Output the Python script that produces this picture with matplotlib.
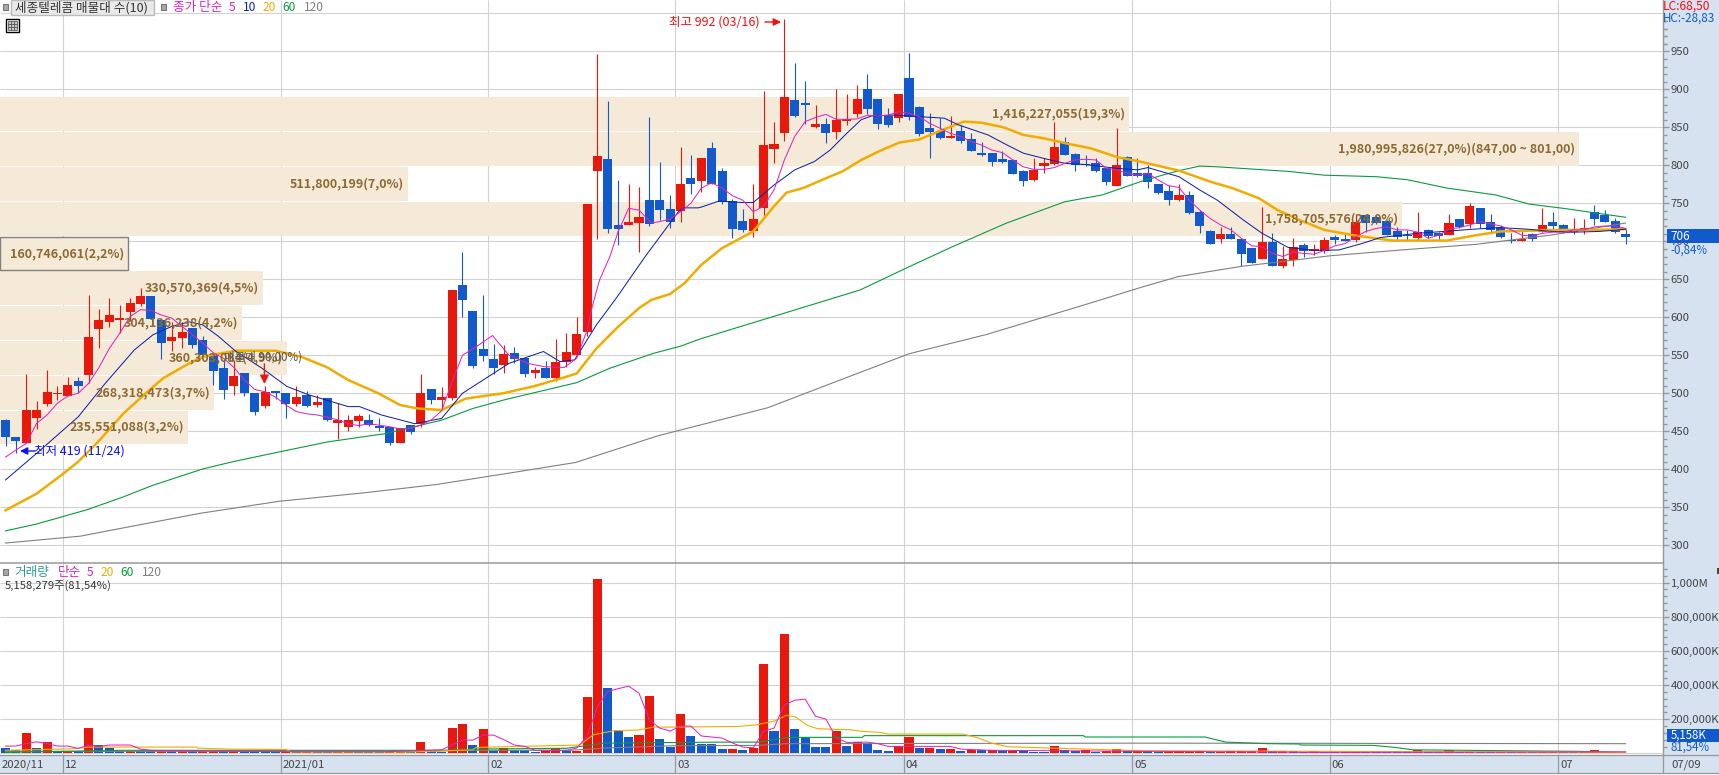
import matplotlib
matplotlib.use("Agg")
import matplotlib.pyplot as plt
from matplotlib.lines import Line2D
from matplotlib.patches import Rectangle

W, H = 1719, 775
NARROW = ['Noto Sans CJK KR', 'DejaVu Sans']

# ---------- DATA ----------
opens = [465,442.5,435,468,486,499.6,497,516,524,585,594,597,607,618,628,596.5,569,573,586,570,552,533,510,527,500,483,502.5,500,486,498,485,494,461,456,464,465,457,456,434.6,458,460,506,491,494,
 642.5,608,558,545,537,553,546,527,533,520,541,550,581,792.5,808,721.5,721.5,724,754,754,742.5,740,783,779,823,792.5,753,727,714,744,821.5,842.5,886,882,850,854,844,858,867.5,900,887,865,862,915,877,849,845,836,845,834.5,816,816,808,807,792.5,781,799,802,831,815,802,803,796.5,773,811,790,
 789.5,775.5,766,754,761,738.5,714,703,709.5,703,691,677,699,667.5,675,695,687,687,706,702.5,702,734.5,732,727,713.5,708.5,704,715,711,708.5,729,723,744,725.5,719,702,701,709.5,712,725.5,721.5,712,715,738.5,734.5,727,710]
closes = [442,437,478,478,502,501,510.5,509,574,596,603,599,619,628,598,566,574,581,564,551,530,504,523,500,475,502,500,486,495,483,489,465,465,465,470,458,455,434,454.4,449,500,491,495,636,
 623,536,549,533,552,545,525,531,520,541,554,578,749,812,716,716,725.5,732,723,741,725.5,775.5,775.5,810,775.5,752,716,715,729,827,828,890,865,879,854,842.5,860,861,887,874,854,853,894,864,841,844,836,839,832,819,814,804,804,788.5,779,794,803,824,813.5,800.5,801,792.5,778,800.5,786,786,
 778,763.5,754,761,737,720,696.5,709.5,703,683,671.5,699,667.5,677,692.5,687,690,702,702,701,725.5,724,724,708,706,707,712,707,707,724,719,746.5,723,715,706,701,703,703,721.5,720,712,713.5,717,729,725.5,712,706]
highs = [466,442.5,525,490,531,510,521,521,629,611,626,616,625,638,628,596.5,594,594,586,575,552,545,544,527,500,510,502.5,500,510,503,498,494,487,471,473,473,468,456,454.4,458,525,506,508,636,
 686,608,629,565,564,561,546,535,542,571,579,600,749,947,885,781,775.5,771.5,864,804,761,824,813.5,810,831,796.5,756,742.5,775.5,898,857,992,935,911,879,862,900,894,906,920,887,875.5,894,948,878,869,862,865,853,842.5,831,816,819,808,794,810,810,857,837,816,813.5,810,797,849,812,810,
 800,775.5,774,775.5,766,741,715,719,719,704,691,745,711,694,704,698,696,706,708.5,709.5,736,734.5,734.5,728,719,715,738.5,716,712,736,730,750.5,744,736,721,711,715,711,744,738.5,723,731,729,748,741,731,717.5]
lows = [431,421,435,453,483,491,497,501,514,560,587,579,595,615,598,545,555,560,560,548,511,493,498,496,471,481,493,468,483,482,482,464,440,450,456,457,450,432,434.6,446,456,486,478,491,
 601,533,543,526,527,540,521,520,520,516,535,549,575,703,711,695,721,686,720,728,717.5,725.5,762,765,775.5,749,704,712,706,735,803,832,864,854,849,829,835,853,864,867.5,848,850,857,860,838.5,810,834.5,836,829,819,812,799,803,788,773,780,790,801,813,792.5,799,791,774,773,786,785,
 770,762,748,753,736,711,696,698,703,667,671.5,677,667,665,667.5,679,682,685,696.5,700,699,712.5,723,708,700.5,700.5,702,704.5,703,708,717.5,717.5,717.5,711,704.5,698,701,701,712,716,711,709.5,709.5,721,725,711,696.5]

ma5_x = list(range(0,44)) + [44,45.4,46.9,47.5,48.5,50.4,51.9,53.8,55,56,56.5,57.2,58.2,59,60,61,62.2,63,64,65,66] + list(range(67,109)) + [109,110] + list(range(111,157))
ma5_y = [416,425.4,434,460.5,471.5,487,496.5,500,513,534,559,579,601,610,609,603,599,588,577,566,553.5,546,534,517.5,505,502,495,484.6,476,473,471.5,468.5,465,460,457.5,460,458,456,453,454,458,465,477,515,
 550,562,576,566,550,539,535,534,546,583,614,649,680,713,743.4,741,724,726,729,739,750,
 770,777,770,760,754,739,746,767.5,807,838,857.5,863,867,860.5,860.5,861,866,865,866,870.6,868.4,864,855,848.7,842,838,831,826.5,820,816.7,807,798,794.7,794.7,797,802.6,807,808,807,796,794,789.5,
 787,789.5,
 780.7,773,771,754,741,730,721.5,715,704,694,693,684,680,686,684,683,688,694,697,706,713,717,719,715,715,712,704,708,716,718,721.5,726,723,720,715,708,707,710.5,712,712,715,715,719,720,720,717]

ma10_x = [0,3,7,9.6,12.4,14.2,16,17.7,19,20.5,22.2,24.7,27.1,29.2,33,34.1,36.2,39.4,42,44,48.5,51.8,53.4,54.8,55.7,56.9,58.8,61.6,63.5,64.8,65.4,66.7,67,68.7,71,72,74,76,77.9,79.4,81,82.4,83.4,85.5,88,90.4,91.8,94.6,96.4,98,100,102,104,107,109,110,113,115,116.7,119.2,121,123.5,126,128.4,130.6,132.4,136,138.5,141.4,143.9,146.5,148.9,151,153.5,155.3,156]
ma10_y = [386,421,469,513,557,577,588,594,590,575,555,533,509,498,482.5,482.5,471.5,460,467,500,539.5,555,541.7,544,563.6,590,625,680,715,739,744,744,745,753,751,751,774,794,805,820,842,860,865,866,864,862,853,840,827,816,809,802.6,801,796,794,797,785,767.5,754,728,710.5,692,688,688.6,697,705,710.5,713,716,718,716,713,712,713,715,716]

ma20_x = [0,3,5.4,7,8.9,11.4,13.5,15.2,17.7,19,20.5,22.2,26,28.5,31,33,35.9,38,39.7,42,44.3,47.9,50.8,53,55,56.9,59,61,62.2,64,65.4,67,69,72,74,75.2,76.8,79,80.6,82.4,84.2,86.1,88,90.2,92.3,94,96.1,98,100,102.4,104.5,107,109.2,113,116,118.2,120.7,122.5,124.6,127,129.8,131.9,133.5,138.8,141.6,144,146.9,149.7,153,156]
ma20_y = [346,368,392.5,410,436,474,500,520,539.5,548,552,556,556,548,534,517.5,500,484.6,480,478,493,500,509,517.6,526,559,587.7,612,623,630.7,645,669,691,713,746,764,770,783,792,807,819,830,834,846.5,857.5,856,850,840,835.5,828,822.4,811,805,793,778.5,769.7,756.6,741,728,715,708,704,701,701,708,713,714,715,715,716]

ma60_x = [0,3,7.9,11.4,14.2,19,21.9,26.4,31,36.6,42,45,48.2,55,58.2,62.4,65,67,82.3,86.7,91.2,96.4,102,105.6,109.3,111.4,113,115,116.7,123.5,127,132,135,138.8,143.5,146.7,150,156]
ma60_y = [319,328,347,364,379,400.5,410,423,436,447,464.7,480,492,514,533,552.6,562,572,636,664.5,693,724,752,761,778.5,787,793,799,798,792,787,785,781,770,761,749,743.4,731.6]

ma120_x = [0,7.2,11,18.7,26.4,34.5,41.5,48.5,54.9,62.8,73.4,79.7,87,94.5,105,109,112.9,119,127.6,134.4,141.6,148.7,152,156]
ma120_y = [303,312,322,342,358,369,380,395,409,444,481,514,552,577.5,621,638,653.5,667,681,688.6,696,708,715,724]

# volume profile (매물대)
zone_top = [889.9,843.9,797.8,751.8,705.7,661,614.9,568.9,522.8,476.8]
zone_bot = [845.2,799.1,753.1,707,662.3,616.2,570.2,524.1,478.1,433.8]
zone_vol = [1416227055,1980995826,511800199,1758705576,160746061,330570369,304136238,360303084,268318473,235551088]
zone_txt = ['1,416,227,055(19,3%)','1,980,995,826(27,0%)(847,00 ~ 801,00)','511,800,199(7,0%)','1,758,705,576(24,0%)','160,746,061(2,2%)','330,570,369(4,5%)','304,136,238(4,2%)','360,303,084(4,9%)','268,318,473(3,7%)','235,551,088(3,2%)']

# volume, millions of shares
volume = [33,18,117,29,64,14,15,12,146,49,29,12,14,13,12,13,12,13,12,13,14,13,14,13,12,11,10,11,10,11,10,9,10,11,10,9,8,9,10,9,64,12,10,150,174,51,145,15,29,18,17,10,14,29,14,
 16,332,1023,385,139,98,109,338,86,37,232,104,57,56,27,28,21,33,525,133,701,145,98,39,38,133,45,68,62,21,16,45,98,33,34,27,28,16,18,17,18,12,13,12,11,10.5,45,17,16,18,10,15,27,12,13,
 12,8,9,10,11,12,10,11,12,13,14,33,13,14,12,11,12,10,9,10,16,10,9,8,7,6,17,10,9,17,9,10,8,7,8,7,8,7,8,9,8,7,8,21,7,8,5.158]
vma5_x = [0,1,2,3,4,5,6,7,8,9,10,12,13,14,27,36.6,42,44,45,46,47,48,49,50,51,54,55,56,57,58,59,60,61,62,63,64,65,66,67,68,69,70,71,72,73,74,75,76,77,78,79,80,81,82,83,84,85,87,91,92,95,105,127,156]
vma5_y = [43,43,57,68,57,43,43,29,49,41,49,49,25,18,10,10,21,78,78,107,107,80,49,41,18,18,31,100,275,363,379,394,353,197,148,131,160,160,102,96,90,61,37,33,129,148,285,311,318,217,201,90,64,66,66,57,41,41,41,25,18,14,6,9]
vma20_x = [0,6.5,8,12,18.4,18.5,21.5,27,27.5,39,45,45.3,55.3,56.6,58.6,61,62.4,64.5,70.6,72.4,74,75.2,76.1,77.2,78.2,79.7,81.3,82.5,84.2,85,92.2,93.7,94.9,96.5,100.7,109.3,127,156]
vma20_y = [18,27,37,37,37,31,25,23,8,8,21,35,49,109,133,137,154,154,158,168,189,223,213,164,145,141,139,129,123,113,113,90,61,39,31,16,12,6]
vma60_x = [0,11.4,42,45,54,56.6,57.6,68.8,72.5,74,75.4,82.5,82.7,103.8,104,115.5,117.5,118.5,121.5,124.6,124.7,131.7,133.8,135.5,140.5,151.5,156]
vma60_y = [6,18,18,25,30,51,60,66,66,80,94,94,104,104,96,96,66,64,57,55,49,47,35,21,18,12,6]
vma120_x = [0,39.7,45,54.4,57.6,64.3,72.4,75.2,109.3,156]
vma120_y = [12,12,18,18,31,45,47,57,60,57]

price_ticks = [300,350,400,450,500,550,600,650,700,750,800,850,900,950]
vol_ticks = [200,400,600,800,1000]
vol_tick_labels = ['200,000K','400,000K','600,000K','800,000K','1,000M']
month_pos = [5.5,26.5,46.5,64.5,86.5,108.5,127.5,149.5]
month_labels = ['12','2021/01','02','03','04','05','06','07']

# ---------- GEOMETRY & COLOURS ----------
PX_X0, PX_DX = 5.5, 10.385          # pixel of candle 0, pixels per candle
AXIS_X = 1662.5
RED, BLUE, MAG, NAVY, ORG, GRN, GRY = '#E8180C', '#125ACB', '#E020C0', '#0A1FA8', '#F0AC00', '#0A9A40', '#808080'
GRID, PANEL, ZONE, ZTXT, AXC = '#D2D2D2', '#D6E2F0', '#F5E9D8', '#8B6A33', '#989898'
TICK = 11.3

def fx(px): return (px - PX_X0) / PX_DX
def fp(py): return 950 - (py - 51.3) / 0.76
def fv(py): return (753.4 - py) / 34.15 * 200
def fs(px): return px * 0.72
def fig_xy(x, y): return x / W, 1 - y / H

fig = plt.figure(figsize=(W / 100, H / 100), dpi=100, facecolor=PANEL)
PRICE_B, VOL_B = 563, 755.3
ax = fig.add_axes([0, 1 - PRICE_B / H, AXIS_X / W, PRICE_B / H])
axv = fig.add_axes([0, 1 - VOL_B / H, AXIS_X / W, (VOL_B - PRICE_B) / H])
xlim = (fx(0), fx(AXIS_X))

# ---------- price pane ----------
ax.set_xlim(*xlim); ax.set_ylim(fp(PRICE_B), fp(0))
for s in ('top', 'left', 'bottom'):
    ax.spines[s].set_visible(False)
    axv.spines[s].set_visible(False)
for a in (ax, axv):
    a.spines['right'].set_color(AXC); a.spines['right'].set_linewidth(1)
    a.set_xticks([]); a.yaxis.tick_right()
ax.hlines(price_ticks + [1000], *xlim, color=GRID, lw=0.8, zorder=0)
ax.vlines(month_pos, fp(PRICE_B), fp(0), color=GRID, lw=0.8, zorder=0)

SHARE_PX = 7.97e-7 / PX_DX
for t, b, v in zip(zone_top, zone_bot, zone_vol):
    ax.barh((t + b) / 2, v * SHARE_PX, height=t - b, left=xlim[0], color=ZONE, lw=0, zorder=1)
ax.barh((zone_top[4] + zone_bot[4]) / 2, zone_vol[4] * SHARE_PX, height=zone_top[4] - zone_bot[4], left=xlim[0],
        facecolor=ZONE, edgecolor=GRY, lw=1, zorder=1.2)

idx = list(range(len(closes)))
cols = [RED if c >= o else BLUE for o, c in zip(opens, closes)]
ax.vlines(idx, lows, highs, colors=cols, lw=0.8, zorder=3)
ax.bar(idx, [abs(c - o) for o, c in zip(opens, closes)], bottom=[min(o, c) for o, c in zip(opens, closes)],
       width=0.87, color=cols, lw=0, zorder=3)

ax.plot(ma120_x, ma120_y, color=GRY, lw=0.8, zorder=4)
ax.plot(ma60_x, ma60_y, color=GRN, lw=0.8, zorder=4)
ax.plot(ma20_x, ma20_y, color=ORG, lw=1.8, zorder=4)
ax.plot(ma10_x, ma10_y, color=NAVY, lw=0.72, zorder=4)
ax.plot(ma5_x, ma5_y, color=MAG, lw=0.72, zorder=4)

for t, b, v, s in zip(zone_top, zone_bot, zone_vol, zone_txt):
    ax.text(xlim[0] + v * SHARE_PX - 4 / PX_DX, (t + b) / 2, s, ha='right', va='center', color=ZTXT,
            fontsize=fs(12.5), family=NARROW, weight='bold', zorder=6)
ax.text(fx(302), fp(357), '매물대 90,00%)', ha='right', va='center', color='#555555', fontsize=fs(11.5), family=NARROW, zorder=6)

ax.text(fx(760), fp(22), '최고 992 (03/16)', ha='right', va='center', color='#F01010', fontsize=fs(12.5), family=NARROW, zorder=7)
ax.annotate('', xy=(fx(781), fp(22)), xytext=(fx(765), fp(22)), zorder=7,
            arrowprops=dict(arrowstyle='-|>', color='#F01010', lw=1, mutation_scale=11, shrinkA=0, shrinkB=0))
ax.text(fx(34), fp(451), '최저 419 (11/24)', ha='left', va='center', color='#1010F0', fontsize=fs(12.5), family=NARROW, zorder=7)
ax.annotate('', xy=(fx(20), fp(451)), xytext=(fx(35), fp(451)), zorder=7,
            arrowprops=dict(arrowstyle='-|>', color='#1010F0', lw=1, mutation_scale=11, shrinkA=0, shrinkB=0))
ax.annotate('', xy=(fx(264.4), fp(384)), xytext=(fx(264.4), fp(364)), zorder=7,
            arrowprops=dict(arrowstyle='-|>', color=RED, lw=1, mutation_scale=13, shrinkA=0, shrinkB=0))

ax.set_yticks(price_ticks)
ax.set_yticklabels([str(p) for p in price_ticks], family=NARROW, fontsize=fs(TICK), color='#444444')
ax.set_yticks([p + d for p in price_ticks for d in (10, 20, 30, 40)] + [960, 970, 980, 990], minor=True)
ax.tick_params(axis='y', which='major', length=fs(6), width=1, color=AXC, pad=1.5)
ax.tick_params(axis='y', which='minor', length=fs(3.5), width=1, color=AXC)

# ---------- volume pane ----------
axv.set_xlim(*xlim); axv.set_ylim(fv(VOL_B), fv(PRICE_B))
axv.hlines(vol_ticks, *xlim, color=GRID, lw=0.8, zorder=0)
axv.hlines(0, *xlim, color=GRID, lw=0.8, zorder=0)
axv.vlines(month_pos, fv(VOL_B), fv(PRICE_B), color=GRID, lw=0.8, zorder=0)
vcols = [BLUE] + [RED if volume[i] > volume[i - 1] else BLUE for i in range(1, len(volume))]
axv.bar(idx, volume, width=0.87, color=vcols, lw=0, zorder=2)
axv.plot(vma120_x, vma120_y, color=GRY, lw=0.8, zorder=3)
axv.plot(vma60_x, vma60_y, color=GRN, lw=0.8, zorder=3)
axv.plot(vma20_x, vma20_y, color=ORG, lw=0.8, zorder=3)
axv.plot(vma5_x, vma5_y, color=MAG, lw=0.72, zorder=3)
axv.set_yticks(vol_ticks)
axv.set_yticklabels(vol_tick_labels, family=NARROW, fontsize=fs(TICK), color='#444444')
axv.set_yticks([v for v in range(0, 1100, 40) if v % 200], minor=True)
axv.tick_params(axis='y', which='major', length=fs(6), width=1, color=AXC, pad=1.5)
axv.tick_params(axis='y', which='minor', length=fs(3.5), width=1, color=AXC)

# ---------- figure furniture ----------
def ftext(x, y, s, **kw):
    kw.setdefault('va', 'center'); kw.setdefault('ha', 'left'); kw.setdefault('family', NARROW)
    kw.setdefault('fontsize', fs(12))
    fig.text(*fig_xy(x, y), s, **kw)
def frect(x0, y0, x1, y1, **kw):
    fig.add_artist(Rectangle(fig_xy(x0, y1), (x1 - x0) / W, (y1 - y0) / H, transform=fig.transFigure, **kw))
def fline(x0, y0, x1, y1, **kw):
    a, b = fig_xy(x0, y0), fig_xy(x1, y1)
    fig.add_artist(Line2D([a[0], b[0]], [a[1], b[1]], transform=fig.transFigure, **kw))

# divider lines and date strip
fline(0, PRICE_B, AXIS_X, PRICE_B, color=AXC, lw=1.1)
fline(0, VOL_B, W, VOL_B, color=AXC, lw=0.9)
fline(0, 773.3, W, 773.3, color=AXC, lw=0.9)
frect(0, 774, W, 775, facecolor='white', lw=0)
for p in month_pos:
    xpx = PX_X0 + PX_DX * p
    fline(xpx, VOL_B, xpx, 773.3, color=AXC, lw=0.9)
fline(AXIS_X, VOL_B, AXIS_X, 773.3, color=AXC, lw=0.9)
ftext(2, 764.5, '2020/11', color='#444444', fontsize=fs(11.3))
for p, s in zip(month_pos, month_labels):
    ftext(PX_X0 + PX_DX * p + 2, 764.5, s, color='#444444', fontsize=fs(11.3))
ftext(1671, 764.5, '07/09', color='#444444', fontsize=fs(11.3))

# legends
frect(11, 0.5, 154, 14.5, facecolor='#E9E9E9', edgecolor='#BBBBBB', lw=1)
for sx, sy in ((5.5, 7), (163.6, 7), (5.5, 572)):
    frect(sx - 2.5, sy - 3, sx + 2.5, sy + 3, facecolor='#A8A8A8', edgecolor='#777777', lw=0.8)
ftext(15, 7.5, '세종텔레콤 매물대 수(10)', color='#333333', fontsize=fs(12.6))
ftext(172.5, 7.5, '종가 단순', color=MAG, fontsize=fs(12.6))
ftext(229, 7.5, '5', color=MAG); ftext(243, 7.5, '10', color=NAVY); ftext(262.5, 7.5, '20', color=ORG)
ftext(282.5, 7.5, '60', color=GRN); ftext(303.5, 7.5, '120', color=GRY)
ftext(14.5, 572.5, '거래량', color='#2A9A9A', fontsize=fs(12.6)); ftext(58, 572.5, '단순', color=MAG, fontsize=fs(12.6))
ftext(86.5, 572.5, '5', color=MAG); ftext(100.5, 572.5, '20', color=ORG)
ftext(120.5, 572.5, '60', color=GRN); ftext(141.5, 572.5, '120', color=GRY)
ftext(4.5, 585.5, '5,158,279주(81,54%)', color='#333333', fontsize=fs(11.3))

# icon
frect(5.5, 18.5, 18.5, 31.5, facecolor='white', edgecolor='black', lw=1)
frect(7.5, 20.5, 16.5, 29.5, facecolor='#C8C8C8', edgecolor='#666666', lw=0.6)
for gx in (10.5, 13.5):
    fline(gx, 20.5, gx, 29.5, color='#555555', lw=0.6)
for gy in (23.5, 26.5):
    fline(7.5, gy, 16.5, gy, color='#555555', lw=0.6)

# right panel readouts
ftext(1663, 6.5, 'LC:68,50', color='#F01010', fontsize=fs(12))
ftext(1663, 18.5, 'HC:-28,83', color=BLUE, fontsize=fs(11.7))
frect(1667, 229.5, W, 243, facecolor=BLUE, lw=0)
ftext(1670.5, 236.5, '706', color='white', fontsize=fs(11.8))
ftext(1670.5, 250, '-0,84%', color=BLUE, fontsize=fs(11.5))
frect(1667, 729, W, 742, facecolor=BLUE, lw=0)
ftext(1670.5, 735.5, '5,158K', color='white', fontsize=fs(11.5))
ftext(1670.5, 747.5, '81,54%', color=BLUE, fontsize=fs(11.5))
frect(1717, 568, W, 574, facecolor='#444444', lw=0)

fig.savefig('out.png', dpi=100, facecolor=fig.get_facecolor())
